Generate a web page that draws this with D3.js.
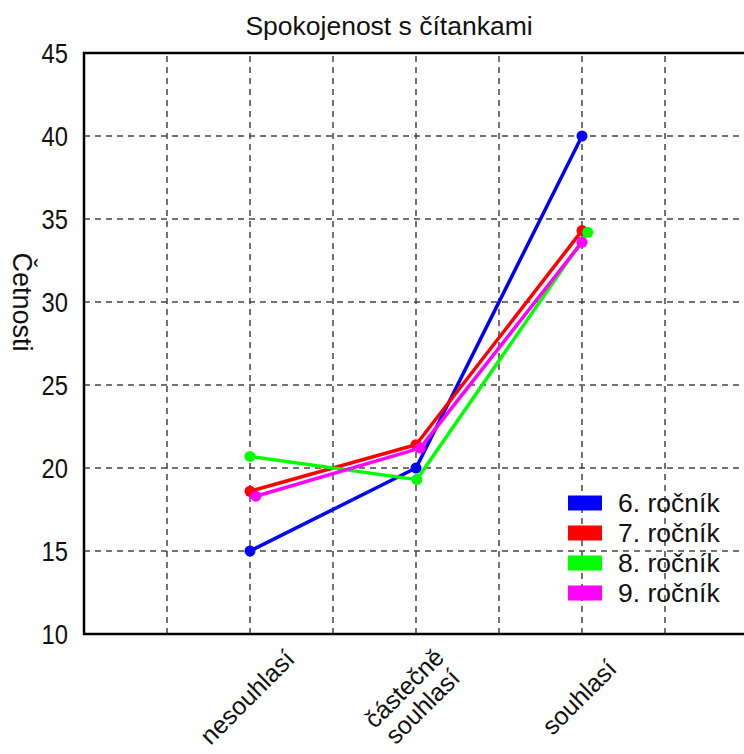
<!DOCTYPE html>
<html>
<head>
<meta charset="utf-8">
<script src="https://cdn.jsdelivr.net/npm/d3@7"></script>
<style>
  body { margin: 0; background: #fff; }
  text { font-family: "Liberation Sans", Arial, sans-serif; fill: #111; }
</style>
</head>
<body>
<script>
// categories sit on x = 2, 4, 6 of a 0..8 axis
var categories = ["nesouhlasí", "částečně souhlasí", "souhlasí"];
var categoryPos = [2, 4, 6];
var seriesNames = ["6. ročník", "7. ročník", "8. ročník", "9. ročník"];
var seriesColors = ["#0000ff", "#ff0000", "#00ff00", "#ff00ff"];
var values6 = [15, 20, 40];
var values7 = [18.6, 21.4, 34.3];
var values8 = [20.7, 19.3, 34.2];
var values9 = [18.3, 21.2, 33.6];
// small horizontal shifts visible in the picture
var xPos6 = [2, 4, 6];
var xPos7 = [2, 4, 6];
var xPos8 = [2, 4.01, 6.07];
var xPos9 = [2.07, 4.05, 6];
var yTicks = [10, 15, 20, 25, 30, 35, 40, 45];
var xGrid = [1, 2, 3, 4, 5, 6, 7];

var w = 744, h = 754;
var margin = {top: 53, left: 84, right: -4, bottom: 120};

var svg = d3.select("body").append("svg")
  .attr("width", w)
  .attr("height", h);

var x = d3.scaleLinear().domain([0, 8]).range([margin.left, w - margin.right]);
var y = d3.scaleLinear().domain([10, 45]).range([h - margin.bottom, margin.top]);

// grid
svg.append("g").selectAll("line.vg")
  .data(xGrid).enter().append("line")
  .attr("x1", function(d){ return x(d); })
  .attr("x2", function(d){ return x(d); })
  .attr("y1", y(10)).attr("y2", y(45))
  .attr("stroke", "#444").attr("stroke-width", 1.5)
  .attr("stroke-dasharray", "6,5");

svg.append("g").selectAll("line.hg")
  .data(yTicks.slice(1, -1)).enter().append("line")
  .attr("x1", x(0)).attr("x2", x(8))
  .attr("y1", function(d){ return y(d); })
  .attr("y2", function(d){ return y(d); })
  .attr("stroke", "#444").attr("stroke-width", 1.5)
  .attr("stroke-dasharray", "6,5");

// box
svg.append("rect")
  .attr("x", x(0)).attr("y", y(45))
  .attr("width", x(8) - x(0)).attr("height", y(10) - y(45))
  .attr("fill", "none").attr("stroke", "#000").attr("stroke-width", 2.5);

// y tick labels
svg.append("g").selectAll("text")
  .data(yTicks).enter().append("text")
  .attr("transform", function(d){ return "translate(" + (x(0) - 16) + "," + (y(d) + 10) + ") scale(0.88,1)"; })
  .attr("text-anchor", "end")
  .style("font-size", "27px")
  .text(function(d){ return d; });

// x tick labels, rotated
var xl = svg.append("g").selectAll("g")
  .data(categories).enter().append("g")
  .attr("transform", function(d, i){
    return "translate(" + (x(categoryPos[i]) - 3) + ",697) rotate(-45)";
  });
xl.append("text")
  .attr("text-anchor", "middle")
  .style("font-size", "25px")
  .each(function(d){
    var words = d.split(" ");
    var t = d3.select(this);
    words.forEach(function(wd, k){
      t.append("tspan")
        .attr("x", 0)
        .attr("y", (k - (words.length - 1) / 2) * 26 + 9)
        .text(wd);
    });
  });

// titles
svg.append("text")
  .attr("x", 389).attr("y", 35)
  .attr("text-anchor", "middle")
  .style("font-size", "26.5px")
  .text("Spokojenost s čítankami");

svg.append("text")
  .attr("transform", "translate(13,302) rotate(90)")
  .attr("text-anchor", "middle")
  .style("font-size", "27px")
  .text("Četnosti");

// series
var series = [
  {name: seriesNames[0], color: seriesColors[0], xs: xPos6, vals: values6},
  {name: seriesNames[1], color: seriesColors[1], xs: xPos7, vals: values7},
  {name: seriesNames[2], color: seriesColors[2], xs: xPos8, vals: values8},
  {name: seriesNames[3], color: seriesColors[3], xs: xPos9, vals: values9}
];

var line = d3.line()
  .x(function(d){ return x(d[0]); })
  .y(function(d){ return y(d[1]); });

series.forEach(function(s){
  var pts = s.vals.map(function(v, i){ return [s.xs[i], v]; });
  svg.append("path")
    .datum(pts)
    .attr("d", line)
    .attr("fill", "none")
    .attr("stroke", s.color)
    .attr("stroke-width", 3.5)
    .attr("stroke-linejoin", "round");
  svg.append("g").selectAll("circle")
    .data(pts).enter().append("circle")
    .attr("cx", function(d){ return x(d[0]); })
    .attr("cy", function(d){ return y(d[1]); })
    .attr("r", 5.5)
    .attr("fill", s.color);
});

// legend
var lg = svg.append("g").selectAll("g")
  .data(series).enter().append("g")
  .attr("transform", function(d, i){ return "translate(568," + (503 + i * 30) + ")"; });
lg.append("rect")
  .attr("x", 0).attr("y", -7.5)
  .attr("width", 34).attr("height", 15)
  .attr("fill", function(d){ return d.color; });
lg.append("text")
  .attr("x", 50).attr("y", 9)
  .style("font-size", "26.5px")
  .text(function(d){ return d.name; });
</script>
</body>
</html>
